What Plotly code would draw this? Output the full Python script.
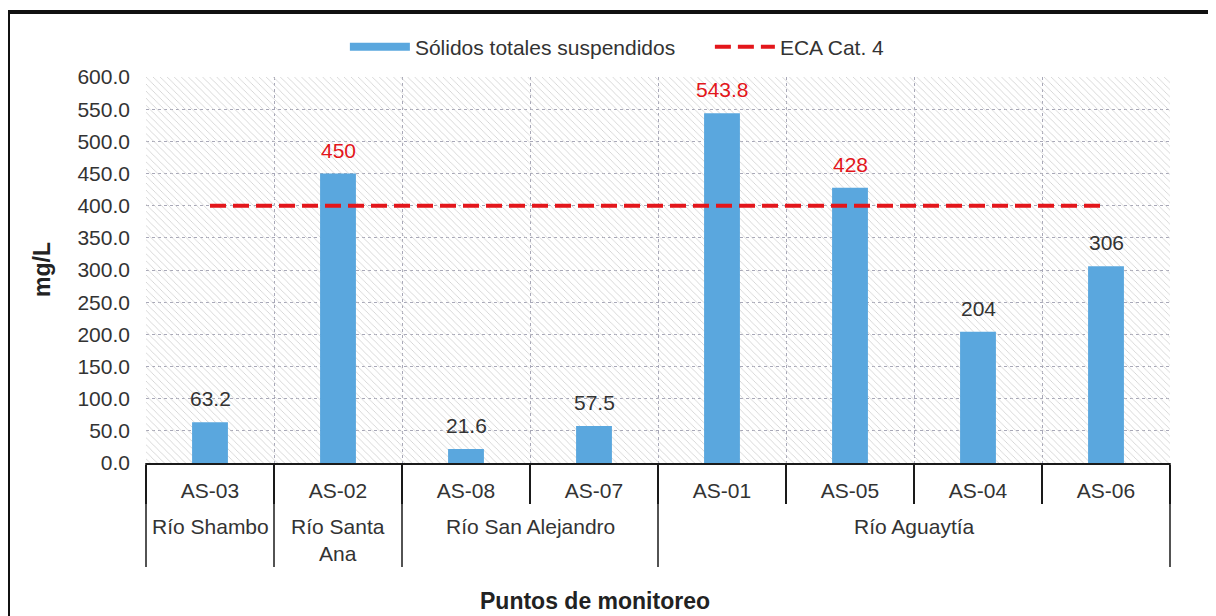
import plotly.graph_objects as go

# ---- data ----
stations = ["AS-03", "AS-02", "AS-08", "AS-07", "AS-01", "AS-05", "AS-04", "AS-06"]
tss_values = [63.2, 450, 21.6, 57.5, 543.8, 428, 204, 306]
eca_limit = [400] * len(stations)
groups = ["Río Shambo", "Río Santa<br>Ana", "Río San Alejandro", "Río Aguaytía"]
group_sizes = [1, 1, 2, 4]
y_ticks = [0, 50, 100, 150, 200, 250, 300, 350, 400, 450, 500, 550, 600]

Y_MAX = 600
FONT = "Liberation Sans, Arial, sans-serif"
RED = "#e3161b"
BLUE = "#5aa7de"
TXT = "#333333"
N = len(stations)
FS = 21

# page offset (body margin) and plot area in screen pixels
OFF = 8
W, H = 1216, 616
L, R, T, B = 146 - OFF, 1170 - OFF, 77 - OFF, 463 - OFF
PW, PH = R - L, B - T


def px_x(p):
    return (p - OFF - L) / PW


def px_y(p):
    return (B - (p - OFF)) / PH


label_colors = [RED if v > eca_limit[i] else TXT for i, v in enumerate(tss_values)]

fig = go.Figure()

# hatched plot background (decoration)
fig.add_trace(go.Bar(
    x=stations, y=[Y_MAX] * N, width=1.0,
    marker=dict(color="rgba(0,0,0,0)", line=dict(width=0),
                pattern=dict(shape="\\", size=5, solidity=0.15, fgcolor="#cccccc",
                             fillmode="replace")),
    showlegend=False, hoverinfo="skip"))

fig.add_trace(go.Bar(
    x=stations, y=tss_values, width=0.28, name="Sólidos totales suspendidos",
    marker=dict(color=BLUE, line=dict(width=0)),
    showlegend=False, hoverinfo="x+y"))

# legend entry drawn as a wide bar swatch
fig.add_trace(go.Scatter(
    x=[None], y=[None], mode="lines", name="Sólidos totales suspendidos",
    line=dict(color=BLUE, width=8)))

fig.add_trace(go.Scatter(
    x=stations, y=eca_limit, mode="lines", name="ECA Cat. 4",
    line=dict(color=RED, width=4, dash="16px,7px")))

shapes = []
annotations = []

# data labels
for st, v, c in zip(stations, tss_values, label_colors):
    annotations.append(dict(x=st, y=v, xref="x", yref="y", text=f"{v:g}",
                            showarrow=False, yanchor="bottom", yshift=10,
                            font=dict(family=FONT, size=FS, color=c)))

# group labels & dividers
start = 0
boundaries = [0]
for g, s in zip(groups, group_sizes):
    center = start + (s - 1) / 2.0
    annotations.append(dict(x=center, xref="x", y=px_y(513), yref="paper",
                            text=g, showarrow=False, yanchor="top",
                            font=dict(family=FONT, size=FS, color=TXT)))
    start += s
    boundaries.append(start)
for b in boundaries:
    shapes.append(dict(type="line", xref="paper", yref="paper", x0=b / N, x1=b / N,
                       y0=0, y1=px_y(567), line=dict(color="#1a1a1a", width=1.5)))

# outer frame
shapes.append(dict(type="rect", xref="paper", yref="paper",
                   x0=px_x(8), x1=px_x(1211), y0=px_y(650), y1=px_y(12),
                   line=dict(color="#111111", width=4)))

annotations.append(dict(x=px_x(595), xref="paper", y=px_y(601), yref="paper",
                        text="<b>Puntos de monitoreo</b>", showarrow=False, yanchor="middle",
                        font=dict(family=FONT, size=23, color="#222222")))
annotations.append(dict(x=px_x(42), xref="paper", y=0.5, yref="paper",
                        text="<b>mg/L</b>", showarrow=False, textangle=-90,
                        xanchor="center", yanchor="middle",
                        font=dict(family=FONT, size=23, color="#222222")))

fig.update_layout(
    width=W, height=H,
    margin=dict(l=L, r=W - R, t=T, b=H - B, autoexpand=False),
    paper_bgcolor="white", plot_bgcolor="white",
    barmode="overlay",
    font=dict(family=FONT, size=FS, color=TXT),
    legend=dict(orientation="h", x=px_x(350) - 0.005, xanchor="left",
                y=px_y(47), yanchor="middle",
                font=dict(family=FONT, size=FS, color=TXT),
                itemwidth=60, entrywidth=290, entrywidthmode="pixels",
                bgcolor="rgba(0,0,0,0)"),
    shapes=shapes, annotations=annotations,
    showlegend=True,
)

fig.update_xaxes(
    type="category", range=[-0.5, N - 0.5], automargin=False,
    tickson="boundaries", ticks="outside", ticklen=39, tickwidth=1.5, tickcolor="#1a1a1a",
    showline=True, linecolor="#1a1a1a", linewidth=1.5,
    showgrid=True, gridcolor="#a8a8b8", griddash="dot", gridwidth=1,
    tickfont=dict(family=FONT, size=FS, color=TXT),
    ticklabelstandoff=8,
)
fig.update_yaxes(
    range=[0, Y_MAX], tickvals=y_ticks, tickformat=".1f", automargin=False,
    showgrid=True, gridcolor="#a8a8b8", griddash="dot", gridwidth=1,
    zeroline=False, showline=False, ticks="",
    tickfont=dict(family=FONT, size=FS, color=TXT),
    ticklabelstandoff=15,
)

fig.write_html("out.html")
